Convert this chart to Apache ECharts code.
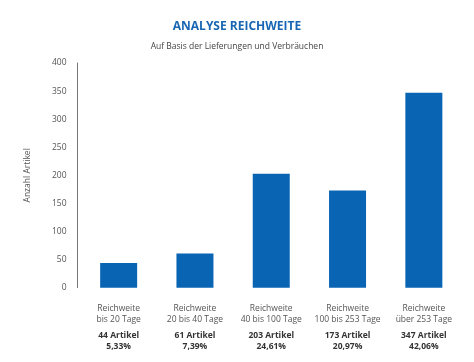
<!DOCTYPE html>
<html>
<head>
<meta charset="utf-8">
<script src="https://cdn.jsdelivr.net/npm/echarts@6/dist/echarts.min.js"></script>
<style>html,body{margin:0;padding:0;background:#fff;}#c{width:474px;height:362px;}</style>
</head>
<body>
<div id="c"></div>
<script>
var categoryLine1 = ['Reichweite', 'Reichweite', 'Reichweite', 'Reichweite', 'Reichweite'];
var categoryLine2 = ['bis 20 Tage', '20 bis 40 Tage', '40 bis 100 Tage', '100 bis 253 Tage', 'über 253 Tage'];
var values = [44, 61, 203, 173, 347];
var percents = ['5,33%', '7,39%', '24,61%', '20,97%', '42,06%'];
var yTicks = { min: 0, max: 400, interval: 50 };

var categories = categoryLine1.map(function (l, i) { return l + '|' + categoryLine2[i]; });

var chart = echarts.init(document.getElementById('c'), null, { renderer: 'canvas' });
var FONT = 'Open Sans';
chart.setOption({
  animation: false,
  backgroundColor: '#ffffff',
  title: [{
    text: 'ANALYSE REICHWEITE',
    left: 'center',
    top: 16,
    textStyle: { fontFamily: FONT, fontSize: 12, fontWeight: 'bold', color: '#1866b3' }
  }, {
    text: 'Auf Basis der Lieferungen und Verbräuchen',
    left: 'center',
    top: 37,
    textStyle: { fontFamily: FONT, fontSize: 8.5, fontWeight: 'normal', color: '#444' }
  }],
  grid: { left: 80.5, right: 12, top: 63, bottom: 74.3 },
  xAxis: {
    type: 'category',
    data: categories,
    axisLine: { show: false },
    axisTick: { show: false },
    axisLabel: {
      margin: 15,
      interval: 0,
      formatter: function (v, idx) {
        var p = v.split('|');
        return '{a|' + p[0] + '}\n{a|' + p[1] + '}\n{s|\u00a0}\n{c|' + values[idx] + ' Artikel}\n{b|' + percents[idx] + '}';
      },
      rich: {
        a: { fontFamily: FONT, fontSize: 8.5, lineHeight: 11, color: '#555', align: 'center' },
        s: { fontFamily: FONT, fontSize: 2, lineHeight: 5, align: 'center' },
        c: { fontFamily: FONT, fontSize: 8.5, fontWeight: 'bold', lineHeight: 11, color: '#333', align: 'center' },
        b: { fontFamily: FONT, fontSize: 8.5, fontWeight: 'bold', lineHeight: 11, color: '#333', align: 'center' }
      }
    }
  },
  yAxis: {
    type: 'value',
    min: yTicks.min,
    max: yTicks.max,
    interval: yTicks.interval,
    offset: 3,
    name: 'Anzahl Artikel',
    nameLocation: 'middle',
    nameGap: 45,
    nameTextStyle: { fontFamily: FONT, fontSize: 8.5, color: '#555' },
    axisLine: { show: true, lineStyle: { color: '#777', width: 1 } },
    axisTick: { show: false },
    splitLine: { show: false },
    axisLabel: { fontFamily: FONT, fontSize: 8.5, color: '#555', margin: 11 }
  },
  series: [{
    type: 'bar',
    data: values,
    barWidth: 37,
    itemStyle: { color: '#0a64b4' }
  }]
});
</script>
</body>
</html>
